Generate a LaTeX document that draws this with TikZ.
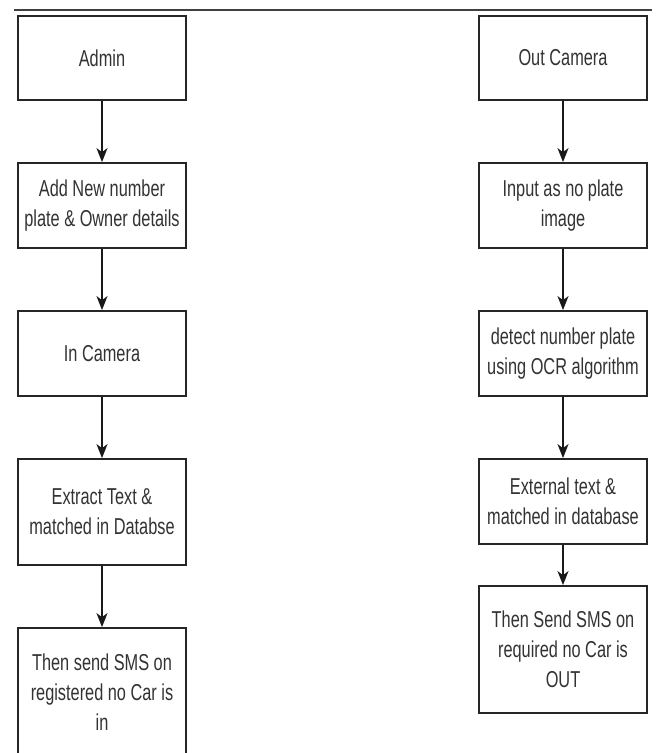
\documentclass[tikz,border=0pt]{standalone}
\usepackage{fontspec}
\setmainfont{Liberation Sans}[FakeStretch=0.71]
\usetikzlibrary{arrows.meta}
\begin{document}
\begin{tikzpicture}[x=1pt,y=-1pt,
  stepbox/.style={draw=black!85, line width=1.8pt, fill=white, minimum width=168pt,
    inner sep=0pt, align=center, text=black!80, font=\fontsize{23}{30}\selectfont},
  flow/.style={draw=black!90, line width=1.5pt, -{Stealth[length=14pt,width=11pt,inset=4pt]}},
  rule/.style={draw=black!75, line width=1.8pt}]
\useasboundingbox (0,0) rectangle (657,753);
\coordinate (ruleL) at (14,10);
\coordinate (ruleR) at (652,10);
\draw[rule] (ruleL) -- (ruleR);
% left column
\node[stepbox, minimum height=84pt] (l1) at (102,58) {Admin};
\node[stepbox, minimum height=85pt] (l2) at (102,205.5) {Add New number\\plate \& Owner details};
\node[stepbox, minimum height=85pt] (l3) at (102,353.5) {In Camera};
\node[stepbox, minimum height=106pt] (l4) at (102,512) {Extract Text \&\\matched in Databse};
\node[stepbox, minimum height=128pt] (l5) at (102,692) {Then send SMS on\\registered no Car is\\in};
% right column
\node[stepbox, minimum height=84pt] (r1) at (563,58) {Out Camera};
\node[stepbox, minimum height=85pt] (r2) at (563,205.5) {Input as no plate\\image};
\node[stepbox, minimum height=85pt] (r3) at (563,353.5) {detect number plate\\using OCR algorithm};
\node[stepbox, minimum height=85pt] (r4) at (563,501.5) {External text \&\\matched in database};
\node[stepbox, minimum height=127pt] (r5) at (563,649.5) {Then Send SMS on\\required no Car is\\OUT};
\draw[flow] (l1) -- (l2);
\draw[flow] (l2) -- (l3);
\draw[flow] (l3) -- (l4);
\draw[flow] (l4) -- (l5);
\draw[flow] (r1) -- (r2);
\draw[flow] (r2) -- (r3);
\draw[flow] (r3) -- (r4);
\draw[flow] (r4) -- (r5);
\end{tikzpicture}
\end{document}
